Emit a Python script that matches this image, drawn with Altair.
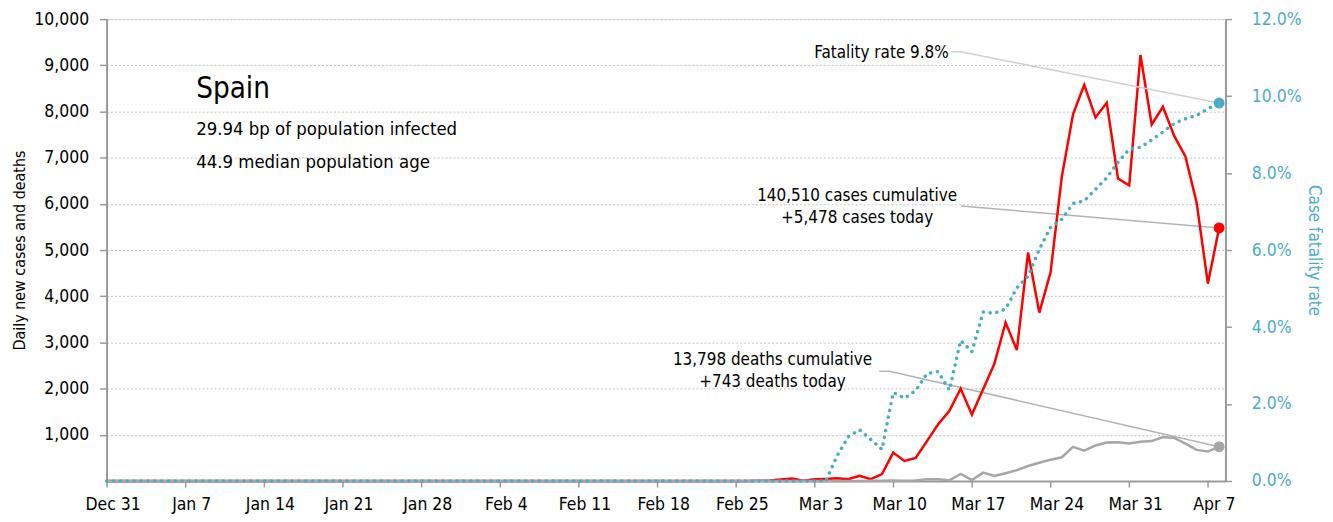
import altair as alt
import pandas as pd

# ---------------- data (daily, Dec 31 2019 -> Apr 8 2020) ----------------
START = "2019-12-31"

CASES = [
    0, 0, 0, 0, 0, 0, 0, 0, 0, 0, 0, 0, 0, 0, 0, 0,
    0, 0, 0, 0, 0, 0, 0, 0, 0, 0, 0, 0, 0, 0, 0, 0,
    1, 0, 0, 0, 0, 0, 0, 0, 0, 1, 0, 0, 0, 0, 0, 0,
    0, 0, 0, 0, 0, 0, 0, 0, 0,
    2, 6, 10, 32, 55, 6, 36, 45, 57, 37,
    115, 40, 150, 615, 435, 501, 864, 1227, 1522, 2000,
    1438, 1987, 2538, 3431, 2833, 4946, 3646, 4517, 6584, 7937,
    8578, 7871, 8189, 6549, 6398, 9222, 7719, 8102, 7472, 7026,
    6023, 4273, 5478,
]

DEATHS = [
    0, 0, 0, 0, 0, 0, 0, 0, 0, 0, 0, 0, 0, 0, 0, 0,
    0, 0, 0, 0, 0, 0, 0, 0, 0, 0, 0, 0, 0, 0, 0, 0,
    0, 0, 0, 0, 0, 0, 0, 0, 0, 0, 0, 0, 0, 0, 0, 0,
    0, 0, 0, 0, 0, 0, 0, 0, 0, 0, 0, 0, 0, 0, 0, 0,
    1, 0, 2, 2, 5, 7, 11, 8, 11, 37,
    36, 16, 152, 21, 182, 107, 169, 235, 324, 394,
    462, 514, 738, 655, 769, 832, 838, 812, 849, 864,
    950, 932, 809, 674, 637, 743,
]

RATE = [  # case fatality rate, %
    0, 0, 0, 0, 0, 0, 0, 0, 0, 0, 0, 0, 0, 0, 0, 0,
    0, 0, 0, 0, 0, 0, 0, 0, 0, 0, 0, 0, 0, 0, 0, 0,
    0, 0, 0, 0, 0, 0, 0, 0, 0, 0, 0, 0, 0, 0, 0, 0,
    0, 0, 0, 0, 0, 0, 0, 0, 0, 0, 0, 0, 0, 0, 0, 0,
    0,
    0.65, 1.15, 1.33, 1.08, 0.82, 2.30, 2.15, 2.35, 2.79, 2.84,
    2.36, 3.65, 3.36, 4.39, 4.36, 4.47, 5.02, 5.32, 6.02, 6.59,
    6.80, 7.21, 7.28, 7.58, 7.88, 8.28, 8.62, 8.67, 8.86, 9.07,
    9.29, 9.41, 9.50, 9.67, 9.82,
]

TICK_DATES = [(2019, 12, 31), (2020, 1, 7), (2020, 1, 14), (2020, 1, 21),
              (2020, 1, 28), (2020, 2, 4), (2020, 2, 11), (2020, 2, 18),
              (2020, 2, 25), (2020, 3, 3), (2020, 3, 10), (2020, 3, 17),
              (2020, 3, 24), (2020, 3, 31), (2020, 4, 7)]
LEFT_TICKS = [1000, 2000, 3000, 4000, 5000, 6000, 7000, 8000, 9000, 10000]
RIGHT_TICKS = [0, 2, 4, 6, 8, 10, 12]

TITLE = "Spain"
SUB1 = "29.94 bp of population infected"
SUB2 = "44.9 median population age"
FAT_LABEL = "Fatality rate 9.8%"
CASE_LABEL1 = "140,510 cases cumulative"
CASE_LABEL2 = "+5,478 cases today"
DEATH_LABEL1 = "13,798 deaths cumulative"
DEATH_LABEL2 = "+743 deaths today"

# leader-line anchor points (data space)
FAT_LEADER = (["2020-03-15T03:00:00", "2020-03-16T00:00:00"], [11.15, 11.15])
CASE_LEADER = (["2020-03-16T00:30:00"], [5955])
DEATH_LEADER = (["2020-03-08T18:00:00", "2020-03-09T16:00:00"], [2377, 2377])

# ---------------- styling ----------------
FONT = "Liberation Sans Narrow, Arial Narrow, DejaVu Sans Condensed, sans-serif"
RED = "#ff0000"
GREY = "#a6a6a6"
BLUE = "#4bacc6"
AXIS_GREY = "#999999"

dates = pd.date_range(START, periods=len(CASES), freq="D")
df = pd.DataFrame({"date": dates, "cases": CASES, "deaths": DEATHS, "rate": RATE})
last = df.iloc[[-1]]
last_date = dates[-1].strftime("%Y-%m-%dT%H:%M:%S")

x_enc = alt.X(
    "date:T",
    scale=alt.Scale(domain=[alt.DateTime(year=2019, month=12, date=31),
                            alt.DateTime(year=2020, month=4, date=8, hours=13, minutes=30)]),
    axis=alt.Axis(values=[alt.DateTime(year=y, month=m, date=d) for y, m, d in TICK_DATES],
                  format="%b %-d", title=None, labelFontSize=17.5, labelColor="#000000",
                  tickColor=AXIS_GREY, domainColor=AXIS_GREY, tickSize=6, domainWidth=2,
                  tickWidth=1.5, labelPadding=9, grid=False, labelFont=FONT,
                  labelFlush=False, labelOffset=6, labelBound=False),
)


def yleft(field):
    return alt.Y(
        f"{field}:Q",
        scale=alt.Scale(domain=[0, 10000], nice=False),
        axis=alt.Axis(values=LEFT_TICKS, labelExpr="format(datum.value, ',')",
                      title="Daily new cases and deaths",
                      titleFontSize=16, titleFontWeight="normal", titleColor="#000000",
                      titleFont=FONT, titlePadding=6, labelFont=FONT,
                      labelFontSize=17.5, labelColor="#000000", tickColor=AXIS_GREY,
                      domainColor=AXIS_GREY, domainWidth=2, tickSize=7, tickWidth=1.5,
                      labelPadding=11, grid=True, gridDash=[2, 2], gridColor="#c4c4c4",
                      gridWidth=1),
    )


def yright(field):
    return alt.Y(
        f"{field}:Q",
        scale=alt.Scale(domain=[0, 12], nice=False),
        axis=alt.Axis(values=RIGHT_TICKS, orient="right",
                      labelExpr="format(datum.value, '.1f') + '%'",
                      title="Case fatality rate", titleFontSize=17, titleFontWeight="normal",
                      titleColor=BLUE, titleFont=FONT, titlePadding=3, labelFont=FONT,
                      labelFontSize=17.5, labelColor=BLUE, tickColor=AXIS_GREY,
                      domainColor=AXIS_GREY, domainWidth=2, tickSize=6, tickWidth=1.5,
                      labelPadding=20, grid=False),
    )


base = alt.Chart(df)

# ---------- left (cases / deaths) group ----------
case_leader_df = pd.DataFrame({
    "date": CASE_LEADER[0] + [last_date],
    "value": CASE_LEADER[1] + [CASES[-1]],
})
death_leader_df = pd.DataFrame({
    "date": DEATH_LEADER[0] + [last_date],
    "value": DEATH_LEADER[1] + [DEATHS[-1]],
})
case_leader = alt.Chart(case_leader_df).mark_line(color="#b4b4b4", strokeWidth=1.5).encode(
    x=x_enc, y=yleft("value"))
death_leader = alt.Chart(death_leader_df).mark_line(color="#b4b4b4", strokeWidth=1.5).encode(
    x=x_enc, y=yleft("value"))
case_line = base.mark_line(color=RED, strokeWidth=2.5).encode(x=x_enc, y=yleft("cases"))
death_line = base.mark_line(color=GREY, strokeWidth=2.5).encode(x=x_enc, y=yleft("deaths"))
case_dot = alt.Chart(last).mark_circle(size=120, color=RED, opacity=1).encode(
    x=x_enc, y=yleft("cases"))
death_dot = alt.Chart(last).mark_circle(size=120, color=GREY, opacity=1).encode(
    x=x_enc, y=yleft("deaths"))
left_group = alt.layer(case_leader, death_leader, case_line, death_line, case_dot, death_dot)

# ---------- right (fatality rate) group ----------
fat_leader_df = pd.DataFrame({
    "date": FAT_LEADER[0] + [last_date],
    "rate": FAT_LEADER[1] + [RATE[-1]],
})
fat_leader = alt.Chart(fat_leader_df).mark_line(color="#d0d0d0", strokeWidth=1.5).encode(
    x=x_enc, y=yright("rate"))
rate_line = base.mark_line(color=BLUE, strokeWidth=3.5, strokeDash=[0.1, 6.8],
                           strokeCap="round").encode(x=x_enc, y=yright("rate"))
rate_dot = alt.Chart(last).mark_circle(size=120, color=BLUE, opacity=1).encode(
    x=x_enc, y=yright("rate"))
right_group = alt.layer(fat_leader, rate_line, rate_dot)


# ---------- text annotations ----------
def label(text, px, py, size=17, align="center"):
    return alt.Chart(pd.DataFrame({"t": [text]})).mark_text(
        font=FONT, fontSize=size, align=align, baseline="middle", color="#000000"
    ).encode(x=alt.value(px), y=alt.value(py), text="t:N")


texts = alt.layer(
    label(TITLE, 90, 70, size=29.5, align="left"),
    label(SUB1, 90, 110, size=18.5, align="left"),
    label(SUB2, 90, 144, size=18.5, align="left"),
    label(FAT_LABEL, 846, 34, align="right"),
    label(CASE_LABEL1, 754, 178),
    label(CASE_LABEL2, 754, 200),
    label(DEATH_LABEL1, 669, 342),
    label(DEATH_LABEL2, 669, 365),
)

chart = alt.layer(left_group, right_group, texts).resolve_scale(y="independent").properties(
    width=1124, height=464, autosize="none",
    padding={"left": 99, "top": 10, "right": 100, "bottom": 35},
    background="#ffffff",
).configure_view(stroke=None).configure(font=FONT)

chart.save("out.html", embed_options={"renderer": "svg", "actions": False})
